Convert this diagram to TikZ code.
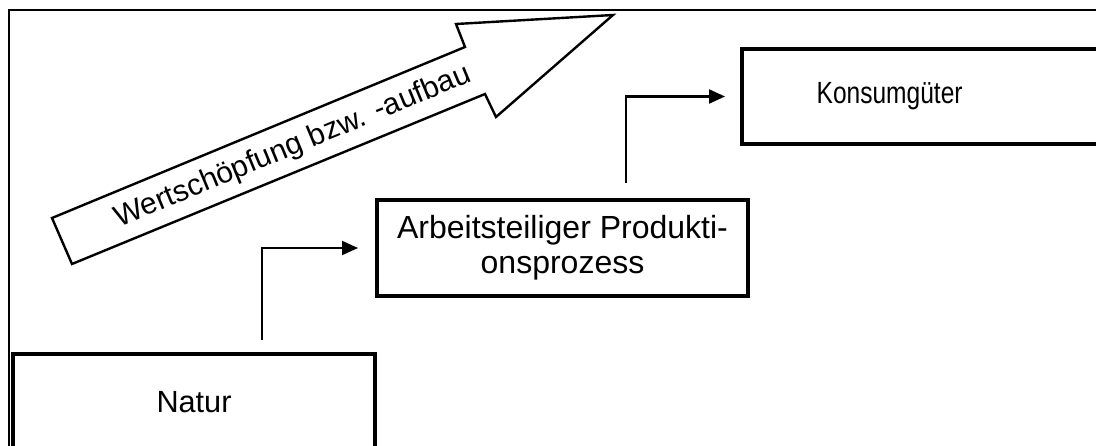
\documentclass[tikz,border=0pt]{standalone}
\usepackage{fontspec}
\setmainfont{Liberation Sans}
\usetikzlibrary{arrows.meta}
\begin{document}
\begin{tikzpicture}[x=0.75pt,y=-0.75pt,
  box/.style={draw, line width=3pt, inner sep=0pt, font=\fontsize{23}{26.5}\selectfont},
  conn/.style={line width=1.6pt, -{Triangle[length=12pt,width=10.5pt]}},
  bigarrow/.style={draw, line width=1.8pt, line join=miter},
]
\useasboundingbox (0,0) rectangle (1096,446);
\clip (0,0) rectangle (1096,446);
% frame
\draw[line width=1.6pt] (9,470) -- (9,10) -- (1120,10);
% boxes
\node[box, anchor=north, minimum width=271.5pt, text height=43.5pt, text depth=37.5pt] (natur) at (194,352) {Natur};
\node[box, align=center, minimum width=278.25pt, minimum height=72pt, font=\fontsize{24}{26.5}\selectfont] (arbeit) at (562.5,248) {Arbeitsteiliger Produkti-\\onsprozess};
\node[box, anchor=north west, inner xsep=56pt, text width=158pt, align=left, minimum height=71.25pt, font=\fontsize{23}{26}\selectfont] (konsum) at (740,47) {\scalebox{0.8}[1]{Konsumgüter}};
% connectors
\draw[conn, shorten <=9pt, shorten >=12.75pt] ([xshift=51pt]natur.north) |- (arbeit.west);
\draw[conn, shorten <=11.25pt, shorten >=11.25pt] ([xshift=47.6pt]arbeit.north) |- (konsum.west);
% block arrow
\draw[bigarrow] (52,218) -- (465,47) -- (456,24) -- (613,15) -- (496,117) -- (485,94) -- (72,264) -- cycle;
\node[rotate=22.5, inner sep=0pt, font=\fontsize{22.5}{26}\selectfont] (wert) at (293,147) {Wertschöpfung bzw. -aufbau};
\end{tikzpicture}
\end{document}
